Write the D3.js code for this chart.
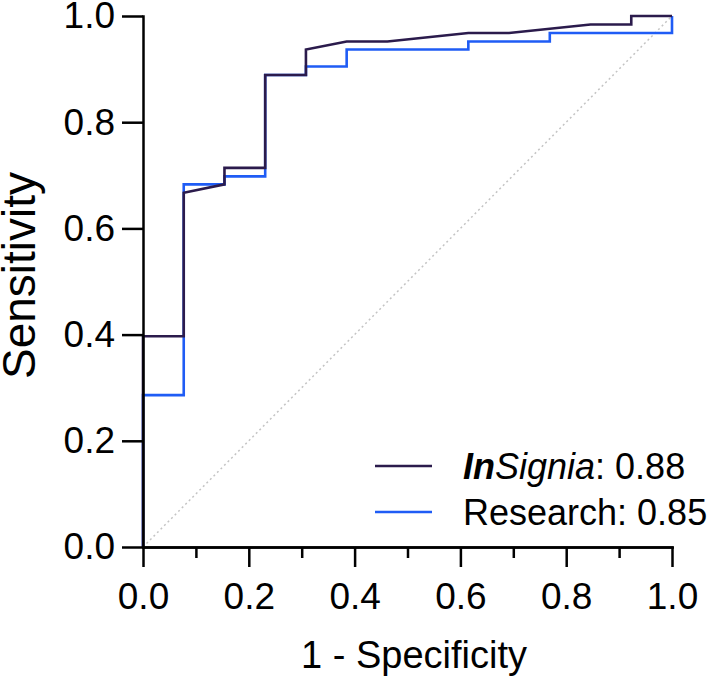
<!DOCTYPE html>
<html>

<head>
  <meta charset="utf8">
  <script src="https://d3js.org/d3.v7.min.js"></script>
  <style>
    body {
      margin: 0;
      background: #fff;
    }

    text {
      font-family: 'Liberation Sans', Arial, sans-serif;
      fill: #000;
    }

    .axis path,
    .axis line {
      stroke: #000;
      stroke-width: 2.5;
    }
  </style>
</head>

<body>
  <svg id="chart" width="709" height="685"></svg>
  <script>
    // ROC points (1 - specificity, sensitivity)
    var insigniaFpr = [0, 0, 0.077, 0.077, 0.154, 0.154, 0.231, 0.231, 0.308, 0.308, 0.385, 0.462, 0.615, 0.692, 0.846, 0.923, 0.923, 1];
    var insigniaTpr = [0, 0.397, 0.397, 0.667, 0.683, 0.714, 0.714, 0.889, 0.889, 0.937, 0.952, 0.952, 0.968, 0.968, 0.984, 0.984, 1, 1];
    var researchFpr = [0, 0, 0.077, 0.077, 0.154, 0.154, 0.231, 0.231, 0.308, 0.308, 0.385, 0.385, 0.615, 0.615, 0.769, 0.769, 1, 1];
    var researchTpr = [0, 0.286, 0.286, 0.683, 0.683, 0.698, 0.698, 0.889, 0.889, 0.905, 0.905, 0.937, 0.937, 0.952, 0.952, 0.968, 0.968, 1];

    var seriesNames = ['InSignia', 'Research'];
    var aucValues = ['0.88', '0.85'];
    var majorTicks = [0, 0.2, 0.4, 0.6, 0.8, 1.0];
    var minorTicks = [0.1, 0.3, 0.5, 0.7, 0.9];

    var chart = d3.select('#chart');
    var margin = { top: 16, right: 37, bottom: 138, left: 143 };
    var width = 529;
    var height = 531;

    var x = d3.scaleLinear().domain([0, 1]).range([0, width]);
    var y = d3.scaleLinear().domain([0, 1]).range([height, 0]);
    var z = d3.scaleOrdinal().domain(seriesNames).range(['#2b1b4c', '#1f5cf5']);

    var group = chart.append('g')
      .attr('transform', 'translate(' + margin.left + ',' + margin.top + ')');

    // chance line
    group.append('line')
      .attr('x1', x(0)).attr('y1', y(0))
      .attr('x2', x(1)).attr('y2', y(1))
      .style('stroke', '#c4c4c4')
      .style('stroke-width', 1.5)
      .style('stroke-dasharray', '2,3');

    var line = d3.line()
      .x((d) => x(d[0]))
      .y((d) => y(d[1]));

    var curves = [
      { key: 'Research', pts: d3.zip(researchFpr, researchTpr) },
      { key: 'InSignia', pts: d3.zip(insigniaFpr, insigniaTpr) }
    ];

    group.selectAll('.curve')
      .data(curves)
      .enter()
      .append('path')
      .attr('class', 'curve')
      .attr('d', (d) => line(d.pts))
      .style('fill', 'none')
      .style('stroke', (d) => z(d.key))
      .style('stroke-width', 2.6)
      .style('stroke-linejoin', 'miter');

    var fmt = d3.format('.1f');

    group.append('g')
      .attr('class', 'axis')
      .attr('transform', 'translate(0,' + height + ')')
      .call(d3.axisBottom(x).tickValues(minorTicks).tickSize(11).tickSizeOuter(0).tickFormat(''));

    group.append('g')
      .attr('class', 'axis x-axis')
      .attr('transform', 'translate(0,' + height + ')')
      .call(d3.axisBottom(x).tickValues(majorTicks).tickSize(20).tickSizeOuter(0).tickPadding(16).tickFormat(fmt))
      .selectAll('text')
      .style('font-size', '37px');

    group.append('g')
      .attr('class', 'axis y-axis')
      .call(d3.axisLeft(y).tickValues(majorTicks).tickSize(21).tickSizeOuter(0).tickPadding(7).tickFormat(fmt))
      .selectAll('text')
      .style('font-size', '37px');

    chart.selectAll('.axis .domain').style('stroke-linecap', 'square');

    // axis titles
    chart.append('text')
      .attr('x', 414)
      .attr('y', 668)
      .attr('text-anchor', 'middle')
      .style('font-size', '38px')
      .text('1 - Specificity');

    chart.append('text')
      .attr('transform', 'translate(35,' + (margin.top + height / 2 - 6) + ') rotate(-90)')
      .attr('text-anchor', 'middle')
      .style('font-size', '46px')
      .text('Sensitivity');

    // legend
    var legend = chart.append('g').attr('transform', 'translate(375,466)');
    var rows = legend.selectAll('.row')
      .data(seriesNames)
      .enter()
      .append('g')
      .attr('class', 'row')
      .attr('transform', (d, i) => 'translate(0,' + i * 46 + ')');

    rows.append('line')
      .attr('x1', 0).attr('x2', 57)
      .style('stroke', (d) => z(d))
      .style('stroke-width', 2.6);

    var labels = rows.append('text')
      .attr('x', 88)
      .attr('dy', '0.35em')
      .style('font-size', '36px');

    labels.each(function (d, i) {
      var t = d3.select(this);
      if (d === 'InSignia') {
        t.append('tspan').style('font-weight', 'bold').style('font-style', 'italic').text('In');
        t.append('tspan').style('font-style', 'italic').text('Signia');
      } else {
        t.append('tspan').text(d);
      }
      t.append('tspan').text(': ' + aucValues[i]);
    });
  </script>
</body>

</html>
